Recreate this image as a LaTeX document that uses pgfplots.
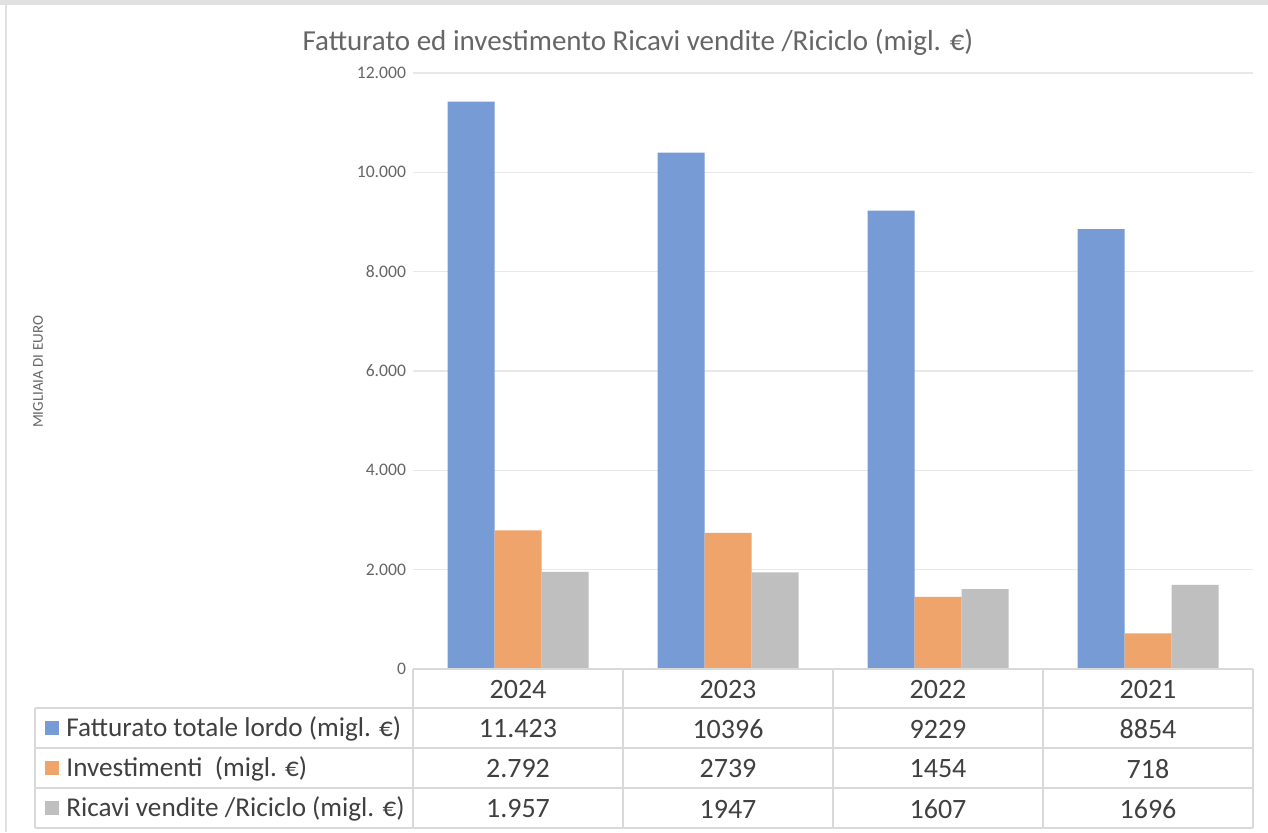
\documentclass[border=0pt]{standalone}
\usepackage{pgfplots}
\pgfplotsset{compat=1.18}
\usepackage{fontspec}
\setmainfont{Carlito}
\definecolor{cblue}{HTML}{769BD5}
\definecolor{corange}{HTML}{EFA46C}
\definecolor{cgray}{HTML}{BFBFBF}
\definecolor{txt}{HTML}{404040}
\definecolor{lbl}{HTML}{666666}
\definecolor{tline}{HTML}{D9D9D9}
\begin{document}
\begin{tikzpicture}[x=0.5pt,y=0.5pt]
\fill[white] (0,0) rectangle (1268,832);
\fill[black!12] (0,827) rectangle (1268,832);
\draw[black!12,line width=0.8pt] (6,0) -- (6,827);
% title
\node[text=lbl,font=\fontsize{14.5}{17}\selectfont] at (638,790) {Fatturato ed investimento Ricavi vendite /Riciclo (migl. €)};
% y label
\node[text=lbl,rotate=90,font=\fontsize{7.5}{9}\selectfont] at (38,460) {MIGLIAIA DI EURO};
\begin{axis}[
  at={(206.5pt,81.5pt)}, anchor=south west,
  scale only axis, width=420pt, height=298pt,
  ybar=0pt, bar width=23.5pt,
  xmin=-0.5, xmax=3.5, ymin=0, ymax=12000,
  xtick=\empty,
  ytick={0,2000,4000,6000,8000,10000,12000},
  scaled y ticks=false,
  ymajorgrids, major grid style={draw=black!9, line width=0.6pt},
  axis line style={draw=none}, major tick length=0pt,
  yticklabel style={text=lbl, font=\fontsize{8.8}{10}\selectfont, xshift=0pt},
  /pgf/number format/.cd, 1000 sep={.}, assume math mode=true,
  /pgfplots/.cd,
  clip=false,
]
\addplot[draw=none, fill=cblue] coordinates {(0,11423) (1,10396) (2,9229) (3,8854)};
\addplot[draw=none, fill=corange] coordinates {(0,2792) (1,2739) (2,1454) (3,718)};
\addplot[draw=none, fill=cgray] coordinates {(0,1957) (1,1947) (2,1607) (3,1696)};
\end{axis}
% table grid (y up: 832 - py)
\begin{scope}[draw=tline, line width=0.75pt]
\draw (413,163) -- (1253,163);
\draw (35,124) -- (1253,124);
\draw (35,84) -- (1253,84);
\draw (35,44) -- (1253,44);
\draw (35,4) -- (1253,4);
\draw (35,124) -- (35,4);
\foreach \x in {413,623,833,1043,1253} \draw (\x,163) -- (\x,4);
\end{scope}
\begin{scope}[every node/.style={text=txt, font=\fontsize{14}{16}\selectfont}]
\node at (518,142.5) {2024};
\node at (728,142.5) {2023};
\node at (938,142.5) {2022};
\node at (1148,142.5) {2021};
\node at (518,103) {11.423};
\node at (728,103) {10396};
\node at (938,103) {9229};
\node at (1148,103) {8854};
\node at (518,63) {2.792};
\node at (728,63) {2739};
\node at (938,63) {1454};
\node at (1148,63) {718};
\node at (518,23) {1.957};
\node at (728,23) {1947};
\node at (938,23) {1607};
\node at (1148,23) {1696};
\end{scope}
\begin{scope}[every node/.style={text=txt, font=\fontsize{13.6}{16}\selectfont, anchor=west, inner sep=0pt}]
\node at (66,103) {Fatturato totale lordo (migl. €)};
\node at (66,63) {Investimenti\ \ (migl. €)};
\node at (66,23) {Ricavi vendite /Riciclo (migl. €)};
\end{scope}
\fill[cblue] (45,97) rectangle (59,111);
\fill[corange] (45,57) rectangle (59,71);
\fill[cgray] (45,17) rectangle (59,31);
\end{tikzpicture}
\end{document}
